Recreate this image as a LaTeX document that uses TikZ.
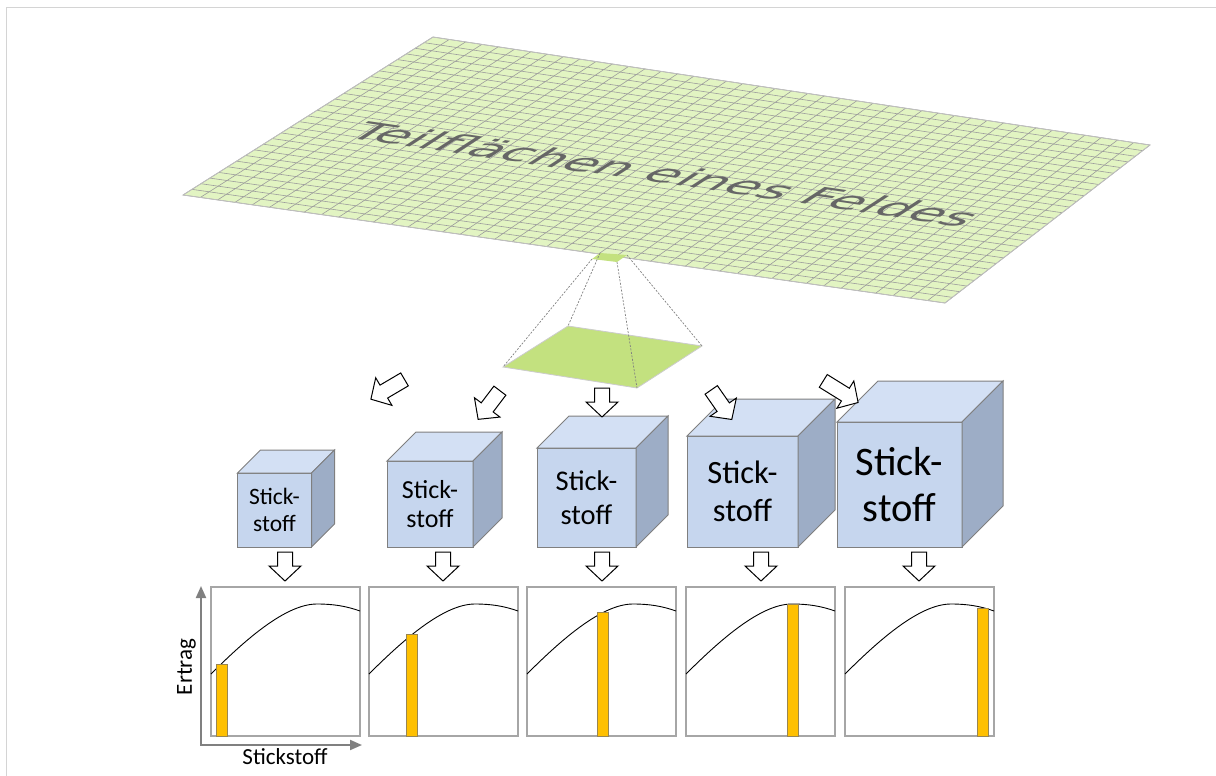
\documentclass[tikz,border=0pt]{standalone}
\usepackage{fontspec}
\setmainfont{Carlito}
\newfontfamily\fieldfont{DejaVu Sans}
\usetikzlibrary{arrows.meta, positioning, calc}

\definecolor{framegray}{HTML}{D4D4D4}
\definecolor{fieldgreen}{HTML}{E2F4C2}
\definecolor{tilegreen}{HTML}{C3E17F}
\definecolor{gridgray}{HTML}{9C9C9C}
\definecolor{textgray}{HTML}{666666}
\definecolor{cubefront}{HTML}{C6D6EE}
\definecolor{cubetop}{HTML}{D3E0F4}
\definecolor{cubeside}{HTML}{9DADC6}
\definecolor{cubeline}{HTML}{7F7F7F}
\definecolor{barorange}{HTML}{FFC000}
\definecolor{barline}{HTML}{9A8650}
\definecolor{boxgray}{HTML}{A6A6A6}
\definecolor{axisgray}{HTML}{808080}

\begin{document}
\begin{tikzpicture}[x=1pt, y=-1pt, >=Stealth,
    gridline/.style={draw=gridgray, line width=0.6},
    fieldlabel/.style={font=\fieldfont\fontsize{53}{60}\selectfont, text=textgray,
      inner sep=0pt, cm={0.9895,-0.1444,0.633,0.411,(0,0)}},
    zoomline/.style={draw=gray, line width=0.7, dash pattern=on 2pt off 1.5pt},
    cubeedge/.style={draw=cubeline, line width=1},
    cubetext/.style={align=center, inner sep=0pt},
    chartbox/.style={draw=boxgray, line width=1.3, minimum size=149pt, inner sep=0pt},
    bar/.style={draw=barline, fill=barorange, line width=0.8},
    axisline/.style={draw=axisgray, line width=2},
    pics/blockarrow/.style={code={
      \draw[line width=1, fill=white] (-7.5,-#1/2) -- (7.5,-#1/2) -- (7.5,#1/2-15)
        -- (16,#1/2-15) -- (0,#1/2) -- (-16,#1/2-15) -- (-7.5,#1/2-15) -- cycle;
    }}]
  \useasboundingbox (0,0) rectangle (1216,776);
  % Frame
  \draw[framegray, line width=1.5] (6.5,776) -- (6.5,7.5) -- (1216,7.5);

  % Field with grid
  \coordinate (fTL) at (433,37);
  \coordinate (fR) at (1150,145);
  \coordinate (fB) at (945,303);
  \coordinate (fL) at (183,195);
  \fill[fieldgreen] (fTL) -- (fR) -- (fB) -- (fL) -- cycle;
  \foreach \i in {0,...,44}
    \draw[gridline] ($(fTL)!{\i/44}!(fR)$) -- ($(fL)!{\i/44}!(fB)$);
  \foreach \j in {0,...,28}
    \draw[gridline] ($(fTL)!{\j/28}!(fL)$) -- ($(fR)!{\j/28}!(fB)$);
  \draw[draw=gray!50, line width=0.8] (fTL) -- (fR) -- (fB) -- (fL) -- cycle;
  \node[fieldlabel] (fieldtext) at (666,174) {Teilflächen eines Feldes};

  % Picked cell and its enlargement
  \coordinate (cTL) at (600,253);
  \coordinate (cR) at (627,255);
  \coordinate (cB) at (617,262);
  \coordinate (cL) at (592,259);
  \fill[tilegreen] (cTL) -- (cR) -- (cB) -- (cL) -- cycle;
  \coordinate (bTL) at (568,326);
  \coordinate (bR) at (702,346);
  \coordinate (bB) at (637,388);
  \coordinate (bL) at (503,367);
  \draw[fill=tilegreen, draw=gray!40, line width=0.8] (bTL) -- (bR) -- (bB) -- (bL) -- cycle;
  \draw[zoomline] (cL) -- (bL);
  \draw[zoomline] (cTL) -- (bTL);
  \draw[zoomline] (cB) -- (bB);
  \draw[zoomline] (cR) -- (bR);

  % Cubes
  \foreach \x/\s/\d/\f/\ls [count=\k] in {237.5/74/23/23.5/27, 387/86/29/26/29,
      537/99/32/28.5/34, 687/111/37/32.5/38, 837/125/41/40.5/46} {
    \draw[cubeedge, fill=cubefront] (\x,547) rectangle ++(\s,-\s);
    \draw[cubeedge, fill=cubetop] (\x,547-\s) -- ++(\d,-\d) -- ++(\s,0) -- ++(-\d,\d) -- cycle;
    \draw[cubeedge, fill=cubeside] (\x+\s,547) -- ++(\d,-\d) -- ++(0,-\s) -- ++(-\d,\d) -- cycle;
    \node[cubetext, font=\fontsize{\f}{\ls}\selectfont] (cube\k) at (\x+\s/2,547-\s/2) {Stick-\\stoff};
  }
  \foreach \x in {285,443,602,761,919}
    \pic at (\x,566.5) {blockarrow=29};

  % Arrows from the cell
  \pic[rotate=-59.5] at (387.7,389.3) {blockarrow=39};
  \pic[rotate=-37.2] at (489,405) {blockarrow=36};
  \pic at (602,402.5) {blockarrow=29};
  \pic[rotate=34.8] at (721.5,404.7) {blockarrow=36};
  \pic[rotate=58.2] at (840.7,391.7) {blockarrow=41};

  % Yield charts
  \foreach \l/\b/\t [count=\k] in {211/5/77, 369/37/47, 527/70/25.5, 686/101/17, 845/132/21} {
    \node[chartbox] (chart\k) at (\l+74.5,661.5) {};
    \begin{scope}[shift={(\l,587)}]
      \draw[black, line width=0.9] (0,87) .. controls (35,52) and (75,17) .. (106,17)
        .. controls (122,17) and (135,19) .. (149,24);
      \draw[bar] (\b,\t) rectangle (\b+11,149);
    \end{scope}
  }
  % Axes
  \coordinate (axO) at (201,745);
  \coordinate (axY) at (201,586);
  \coordinate (axX) at (362,745);
  \draw[axisline, {Triangle[length=12pt, width=10pt]}-{Triangle[length=12pt, width=10pt]}]
    (axY) -- (axO) -- (axX);
  \node[rotate=90, font=\fontsize{23}{27}\selectfont] (ertrag) at (186.5,667) {Ertrag};
  \node[font=\fontsize{23}{27}\selectfont] (stickstoff) at (285,756.5) {Stickstoff};
\end{tikzpicture}
\end{document}
